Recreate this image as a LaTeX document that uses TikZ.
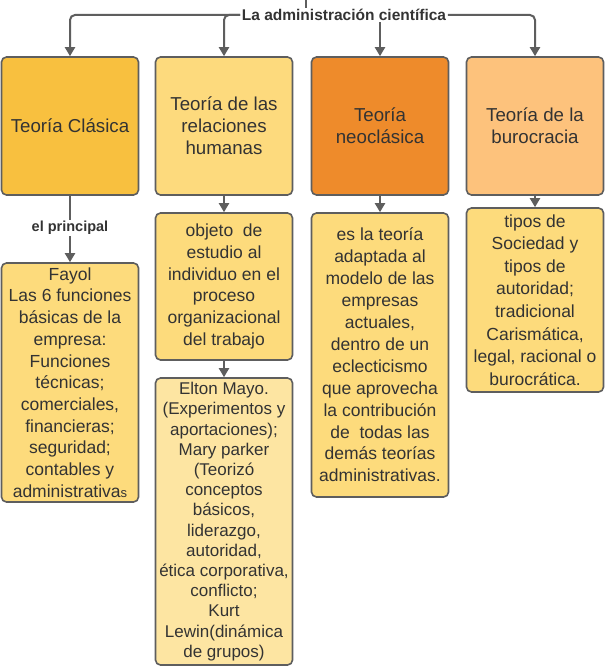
\documentclass[tikz,border=0pt]{standalone}
\usepackage{fontspec}
\setmainfont{Liberation Sans}
\usetikzlibrary{arrows.meta}

\definecolor{linegray}{HTML}{5E5E5E}
\definecolor{textgray}{HTML}{333333}
\definecolor{clasicafill}{HTML}{F8C03F}
\definecolor{humanasfill}{HTML}{FDDA7D}
\definecolor{neofill}{HTML}{EE8B2B}
\definecolor{burofill}{HTML}{FDC27C}
\definecolor{detailfill}{HTML}{FDDB7C}
\definecolor{mayofill}{HTML}{FDE5A2}

\tikzset{
  theory/.style={draw=linegray, line width=1.6pt, rounded corners=5pt, align=center,
    text=textgray, inner sep=1pt, minimum width=137pt,
    font=\fontsize{18.7}{22}\selectfont},
  detail/.style={theory, fill=detailfill, font=\fontsize{17.5}{21.8}\selectfont},
  link/.style={draw=linegray, line width=2pt, rounded corners=5pt},
  arrowlink/.style={link, -{Triangle[width=10pt,length=9pt]}},
  tag/.style={text=textgray, inner sep=1.5pt, font=\bfseries\fontsize{14.5}{17}\selectfont}
}

\begin{document}
\begin{tikzpicture}[x=1pt, y=-1pt]
  \fill[white] (0,0) rectangle (606,666);
  \useasboundingbox (0,0) rectangle (606,666);

  \node[tag, font=\bfseries\fontsize{15.5}{18}\selectfont] (title) at (344,15) {La administración científica};
  \coordinate (src) at (306,0);

  \node[theory, fill=clasicafill, minimum height=138pt] (clasica) at (70,126) {Teoría Clásica};
  \node[theory, fill=humanasfill, minimum height=138pt] (humanas) at (224,126) {Teoría de las\\relaciones\\humanas};
  \node[theory, fill=neofill, minimum height=138pt] (neo) at (380,126) {Teoría\\neoclásica};
  \node[theory, fill=burofill, minimum height=138pt] (buro) at (535,126) {Teoría de la\\burocracia};

  \node[tag] (principal) at (70,228) {el principal};

  \node[detail, minimum height=239pt, font=\fontsize{17.5}{21.7}\selectfont] (fayol) at (70,382.5) {Fayol\\Las 6 funciones\\básicas de la\\empresa:\\Funciones\\técnicas;\\comerciales,\\financieras;\\seguridad;\\contables y\\administrativa{\fontsize{13}{21.7}\selectfont s}};
  \node[detail, minimum height=147pt] (objeto) at (224,286.5) {objeto\ \ de\\estudio al\\individuo en el\\proceso\\organizacional\\del trabajo};
  \node[detail, fill=mayofill, minimum height=287pt, font=\fontsize{17}{20.2}\selectfont] (mayo) at (224,521.5) {Elton Mayo.\\(Experimentos y\\aportaciones);\\Mary parker\\(Teorizó\\conceptos\\básicos,\\liderazgo,\\autoridad,\\ética corporativa,\\conflicto;\\Kurt\\Lewin(dinámica\\de grupos)};
  \node[detail, minimum height=284pt, font=\fontsize{17.5}{21.9}\selectfont] (adaptada) at (380,355) {es la teoría\\adaptada al\\modelo de las\\empresas\\actuales,\\dentro de un\\eclecticismo\\que aprovecha\\la contribución\\de\ \ todas las\\demás teorías\\administrativas.};
  \node[detail, minimum height=184pt, font=\fontsize{17.5}{22.6}\selectfont] (tipos) at (535,300) {tipos de\\Sociedad y\\tipos de\\autoridad;\\tradicional\\Carismática,\\legal, racional o\\burocrática.};

  \draw[link] (src) -- (src |- title.north);
  \draw[arrowlink] (title.west) -| (clasica.north);
  \draw[arrowlink] (title.west) -| (humanas.north);
  \draw[arrowlink] (title.south -| neo.north) -- (neo.north);
  \draw[arrowlink] (title.east) -| (buro.north);

  \draw[link] (clasica.south) -- (principal.north);
  \draw[arrowlink] (principal.south) -- (fayol.north);
  \draw[arrowlink] (humanas.south) -- (objeto.north);
  \draw[arrowlink] (objeto.south) -- (mayo.north);
  \draw[arrowlink] (neo.south) -- (adaptada.north);
  \draw[arrowlink] (buro.south) -- (tipos.north);
\end{tikzpicture}
\end{document}
